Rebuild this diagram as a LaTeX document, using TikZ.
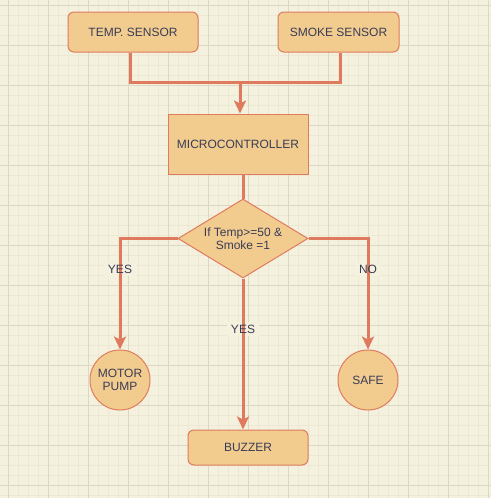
\documentclass[tikz,border=0pt]{standalone}
\usepackage{fontspec}
\setmainfont{Liberation Sans}
\usetikzlibrary{shapes.geometric,arrows.meta}
\definecolor{bg}{HTML}{F4F1DE}
\definecolor{fillc}{HTML}{F2CC8F}
\definecolor{linec}{HTML}{E07A5F}
\definecolor{txt}{HTML}{393C56}
\definecolor{gridminor}{HTML}{ECE8D4}
\definecolor{gridmajor}{HTML}{DCD8C4}
\begin{document}
\begin{tikzpicture}[x=1pt,y=-1pt,
  box/.style={draw=linec,fill=fillc,line width=1pt,rounded corners=6pt,text=txt,font=\fontsize{12}{14}\selectfont,align=center,inner sep=0pt},
  sqbox/.style={draw=linec,fill=fillc,line width=1pt,text=txt,font=\fontsize{12}{14}\selectfont,align=center,inner sep=0pt},
  dec/.style={diamond,draw=linec,fill=fillc,line width=1pt,text=txt,font=\fontsize{12}{14}\selectfont,align=center,inner sep=0pt,shape aspect=1.64,minimum width=130pt,minimum height=79pt},
  circ/.style={circle,draw=linec,fill=fillc,line width=1pt,text=txt,font=\fontsize{12}{14}\selectfont,align=center,inner sep=0pt,minimum size=60pt},
  conn/.style={draw=linec,line width=3pt},
  arr/.style={conn,-{Stealth[length=13pt,width=12pt,inset=3pt]}},
  lbl/.style={text=txt,font=\fontsize{12}{14}\selectfont,inner sep=1pt},
  lblbg/.style={fill=bg}]
\useasboundingbox (0,0) rectangle (491,498);
\fill[bg] (0,0) rectangle (491,498);
% minor grid
\foreach \x in {-2,8,...,498} {\draw[gridminor,line width=0.5pt] (\x,0) -- (\x,498);}
\foreach \y in {-5,5,...,505} {\draw[gridminor,line width=0.5pt] (0,\y) -- (491,\y);}
% major grid
\foreach \x in {8,48,...,491} {\draw[gridmajor,line width=0.8pt] (\x,0) -- (\x,498);}
\foreach \y in {5,45,...,498} {\draw[gridmajor,line width=0.8pt] (0,\y) -- (491,\y);}

\node[box,minimum width=130pt,minimum height=40pt] (temp) at (133,32) {TEMP. SENSOR};
\node[box,minimum width=121pt,minimum height=40pt] (smoke) at (338.5,32) {SMOKE SENSOR};
\node[sqbox,minimum width=140pt,minimum height=60pt] (mcu) at (238,144) {MICROCONTROLLER};
\node[dec] (cond) at (243,238.5) {If Temp>=50 \&\\[-1pt]Smoke =1};
\node[circ] (motor) at (120,380) {MOTOR\\[-1pt]PUMP};
\node[circ] (safe) at (368,380) {SAFE};
\node[box,minimum width=120pt,minimum height=35pt] (buzzer) at (248,447.5) {BUZZER};

% label backgrounds (under the connectors)
\fill[lblbg] (104,262) rectangle (136,276);
\fill[lblbg] (356,262) rectangle (380,276);
\fill[lblbg] (227,322) rectangle (259,336);

\coordinate (join) at (240,82);
\draw[conn] (temp.south -| 130,0) -- (130,82) -- (340,82) -- (smoke.south -| 340,0);
\draw[arr] (join) -- (join |- mcu.north);
\draw[conn] (mcu.south -| cond.north) -- (cond.north);
\draw[arr] (cond.west) -| (motor.north);
\draw[arr] (cond.east) -| (safe.north);
\draw[arr] (cond.south) -- (cond.south |- buzzer.north);

\node[lbl] (yes1) at (120,269) {YES};
\node[lbl] (no) at (368,269) {NO};
\node[lbl] (yes2) at (243,329) {YES};
\end{tikzpicture}
\end{document}
